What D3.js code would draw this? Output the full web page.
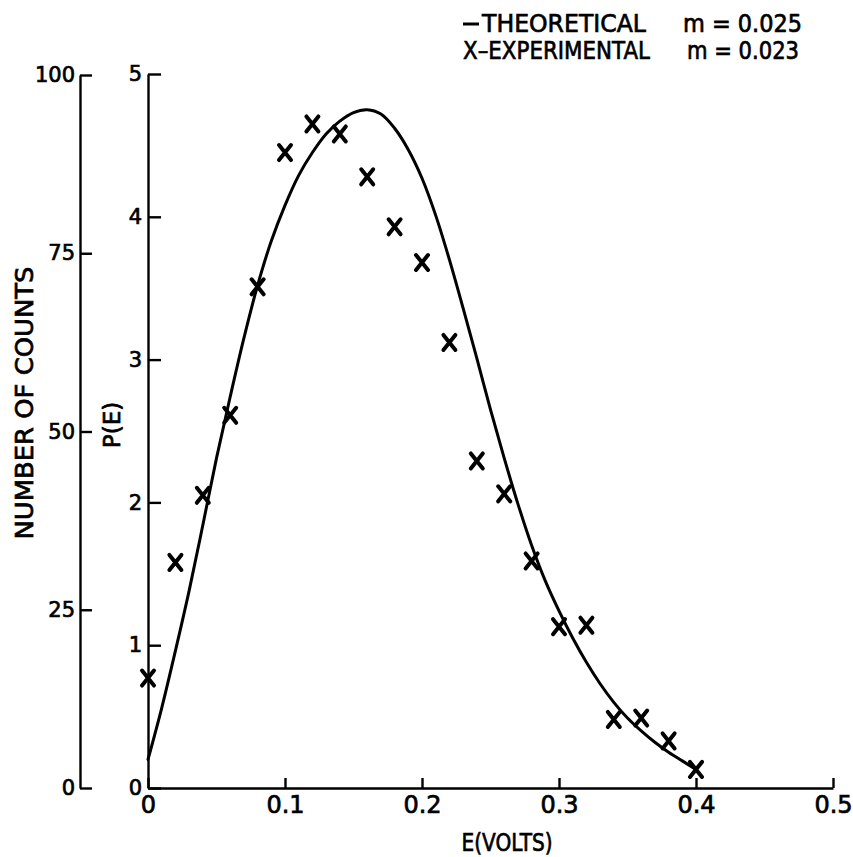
<!DOCTYPE html>
<html>
<head>
<meta charset="utf-8">
<script src="https://cdn.jsdelivr.net/npm/d3@7"></script>
<style>
  html, body { margin: 0; padding: 0; background: #fff; }
  svg { display: block; }
  text { font-family: "DejaVu Sans", sans-serif; fill: #000; stroke: #000; stroke-width: 0.7px; }
</style>
</head>
<body>
<svg id="chart" width="853" height="857"></svg>
<script>
// Energy axis ticks (volts) and P(E) / count ticks
const eTicks = [0, 0.1, 0.2, 0.3, 0.4, 0.5];
const pTicks = [0, 1, 2, 3, 4, 5];
const countTicks = [0, 25, 50, 75, 100];

// Experimental points: energy (V) and probability density P(E)
const expE = [0, 0.02, 0.04, 0.06, 0.08, 0.10, 0.12, 0.14, 0.16, 0.18, 0.20,
              0.22, 0.24, 0.26, 0.28, 0.30, 0.32, 0.34, 0.36, 0.38, 0.40];
const expP = [0.77, 1.58, 2.05, 2.61, 3.51, 4.45, 4.65, 4.58, 4.28, 3.93, 3.68,
              3.12, 2.29, 2.06, 1.59, 1.13, 1.14, 0.48, 0.49, 0.33, 0.13];

// Theoretical curve, m = 0.025
const theoE = [0, 0.01, 0.02, 0.03, 0.04, 0.05, 0.06, 0.07, 0.08, 0.09,
               0.10, 0.11, 0.12, 0.13, 0.14, 0.15, 0.16, 0.17, 0.18, 0.19,
               0.20, 0.21, 0.22, 0.23, 0.24, 0.25, 0.26, 0.27, 0.28, 0.29,
               0.30, 0.31, 0.32, 0.33, 0.34, 0.35, 0.36, 0.37, 0.38, 0.39, 0.40];
const theoP = [0.20, 0.56, 0.96, 1.38, 1.84, 2.31, 2.74, 3.15, 3.52, 3.83,
               4.08, 4.29, 4.45, 4.58, 4.67, 4.73, 4.75, 4.72, 4.62, 4.47,
               4.27, 4.01, 3.70, 3.36, 3.01, 2.65, 2.31, 1.99, 1.70, 1.45,
               1.24, 1.05, 0.88, 0.73, 0.60, 0.49, 0.40, 0.32, 0.25, 0.19, 0.13];

const svg = d3.select("#chart");

const x = d3.scaleLinear().domain([0, 0.5]).range([148, 833]);
const yP = d3.scaleLinear().domain([0, 5]).range([788, 74]);
const yCount = d3.scaleLinear().domain([0, 100]).range([788, 75]);

function styleAxis(g, size) {
  g.select(".domain").attr("stroke", "#000").attr("stroke-width", 2.4);
  g.selectAll(".tick line").attr("stroke", "#000").attr("stroke-width", 2.4);
  g.selectAll(".tick text")
    .attr("fill", "#000")
    .style("font-family", '"DejaVu Sans", sans-serif')
    .style("font-size", size + "px");
  g.attr("font-family", null).attr("font-size", null);
}

// Number of counts axis (outer left)
svg.append("g")
  .attr("transform", "translate(80,0)")
  .call(d3.axisLeft(yCount).tickValues(countTicks)
    .tickSizeInner(-12).tickSizeOuter(0).tickPadding(5)
    .tickFormat(d3.format("d")))
  .call(g => styleAxis(g, 21));

// P(E) axis
svg.append("g")
  .attr("transform", "translate(148,0)")
  .call(d3.axisLeft(yP).tickValues(pTicks)
    .tickSizeInner(-13).tickSizeOuter(0).tickPadding(6)
    .tickFormat(d3.format("d")))
  .call(g => styleAxis(g, 21));

// Energy axis
svg.append("g")
  .attr("transform", "translate(0,788)")
  .call(d3.axisBottom(x).tickValues(eTicks)
    .tickSizeInner(-10).tickSizeOuter(0).tickPadding(8)
    .tickFormat(d => d === 0 ? "0" : d3.format(".1f")(d)))
  .call(g => styleAxis(g, 24));

// Axis titles
svg.append("text")
  .attr("transform", "translate(33,403) rotate(-90)")
  .attr("text-anchor", "middle")
  .attr("textLength", 273).attr("lengthAdjust", "spacingAndGlyphs")
  .style("font-size", "24px")
  .text("NUMBER OF COUNTS");

svg.append("text")
  .attr("transform", "translate(120,425) rotate(-90)")
  .attr("text-anchor", "middle")
  .style("font-size", "23px")
  .text("P(E)");

svg.append("text")
  .attr("x", 507).attr("y", 851)
  .attr("text-anchor", "middle")
  .attr("textLength", 91).attr("lengthAdjust", "spacingAndGlyphs")
  .style("font-size", "24px")
  .text("E(VOLTS)");

// Theoretical curve
const line = d3.line()
  .x((d, i) => x(theoE[i]))
  .y((d, i) => yP(theoP[i]))
  .curve(d3.curveCatmullRom.alpha(0.5));

svg.append("path")
  .datum(theoE)
  .attr("d", line)
  .attr("fill", "none")
  .attr("stroke", "#000")
  .attr("stroke-width", 3)
  .attr("stroke-linejoin", "round")
  .attr("stroke-linecap", "round");

// Experimental points as X marks
const hw = 6, hh = 7.5;
svg.append("g").selectAll("path")
  .data(expE)
  .join("path")
  .attr("transform", (d, i) => `translate(${x(d)},${yP(expP[i])})`)
  .attr("d", `M${-hw},${-hh}L${hw},${hh}M${hw},${-hh}L${-hw},${hh}`)
  .attr("stroke", "#000")
  .attr("stroke-width", 4)
  .attr("stroke-linecap", "round");

// Legend
const legend = svg.append("g");
legend.append("line")
  .attr("x1", 463).attr("x2", 479).attr("y1", 24).attr("y2", 24)
  .attr("stroke", "#000").attr("stroke-width", 3);
legend.append("text")
  .attr("x", 482).attr("y", 32)
  .attr("textLength", 164).attr("lengthAdjust", "spacingAndGlyphs")
  .style("font-size", "24px")
  .text("THEORETICAL");
legend.append("text")
  .attr("x", 683).attr("y", 32)
  .attr("textLength", 119).attr("lengthAdjust", "spacingAndGlyphs")
  .style("font-size", "24px")
  .text("m = 0.025");
legend.append("text")
  .attr("x", 463).attr("y", 59)
  .attr("textLength", 187).attr("lengthAdjust", "spacingAndGlyphs")
  .style("font-size", "24px")
  .text("X–EXPERIMENTAL");
legend.append("text")
  .attr("x", 687).attr("y", 59)
  .attr("textLength", 112).attr("lengthAdjust", "spacingAndGlyphs")
  .style("font-size", "24px")
  .text("m = 0.023");
</script>
</body>
</html>
